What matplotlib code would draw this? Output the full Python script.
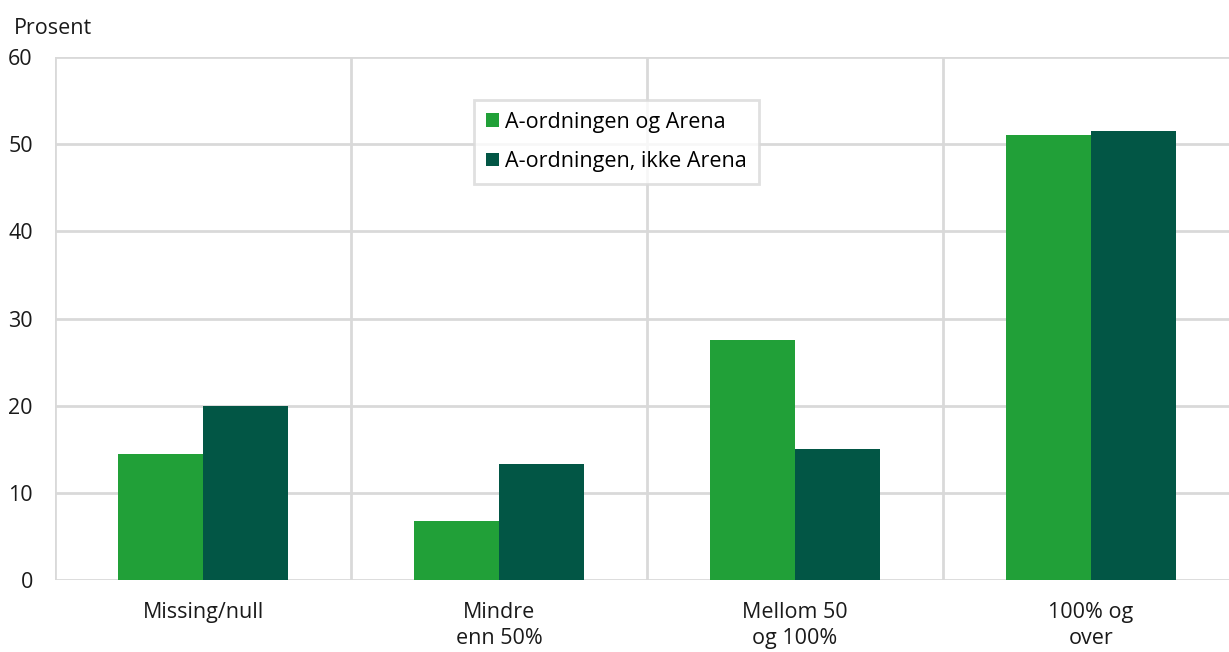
import matplotlib
matplotlib.use("Agg")
import matplotlib.pyplot as plt
import numpy as np

categories = ["Missing/null", "Mindre\nenn 50%", "Mellom 50\nog 100%", "100% og\nover"]
series_names = ["A-ordningen og Arena", "A-ordningen, ikke Arena"]
arena = [14.4, 6.8, 27.5, 51.1]
ikke_arena = [20.0, 13.3, 15.0, 51.5]
yticks = [0, 10, 20, 30, 40, 50, 60]

colors = ["#21A038", "#025645"]
grid_c = "#D9D9D9"
fs = 15.5

plt.rcParams['font.family'] = ['Open Sans', 'DejaVu Sans']
fig = plt.figure(figsize=(12.29, 6.52), dpi=100)
ax = fig.add_axes([0.0448, 0.1104, 0.9634, 0.8022])

x = np.arange(len(categories))
w = 0.288
ax.bar(x - w/2, arena, w, color=colors[0], label=series_names[0], zorder=3)
ax.bar(x + w/2, ikke_arena, w, color=colors[1], label=series_names[1], zorder=3)

ax.set_xlim(-0.5, len(categories) - 0.5)
ax.set_ylim(0, 60)
ax.set_yticks(yticks)
ax.set_yticklabels([str(v) for v in yticks], fontsize=fs, color="#1a1a1a")
ax.set_xticks(x)
ax.set_xticklabels(categories, fontsize=fs, color="#1a1a1a", linespacing=1.3)
ax.tick_params(axis='both', length=0)
ax.tick_params(axis='x', pad=16)
ax.tick_params(axis='y', pad=16)

for v in yticks:
    ax.axhline(v, color=grid_c, lw=2, zorder=1)
for b in np.arange(-0.5, len(categories) - 0.5, 1.0):
    ax.axvline(b, color=grid_c, lw=2, zorder=1)

for s in ax.spines.values():
    s.set_visible(False)

leg = ax.legend(loc="upper left", bbox_to_anchor=(0.354, 0.918), fontsize=fs,
                frameon=True, fancybox=False, handlelength=0.6, handleheight=0.6,
                handletextpad=0.3, labelspacing=0.85, borderpad=0.55, borderaxespad=0)
leg.get_frame().set_edgecolor(grid_c)
leg.get_frame().set_linewidth(2)
leg.set_zorder(5)

fig.text(0.011, 0.957, "Prosent", fontsize=fs, color="#1a1a1a", ha="left", va="center")

fig.savefig("out.png", dpi=100)
